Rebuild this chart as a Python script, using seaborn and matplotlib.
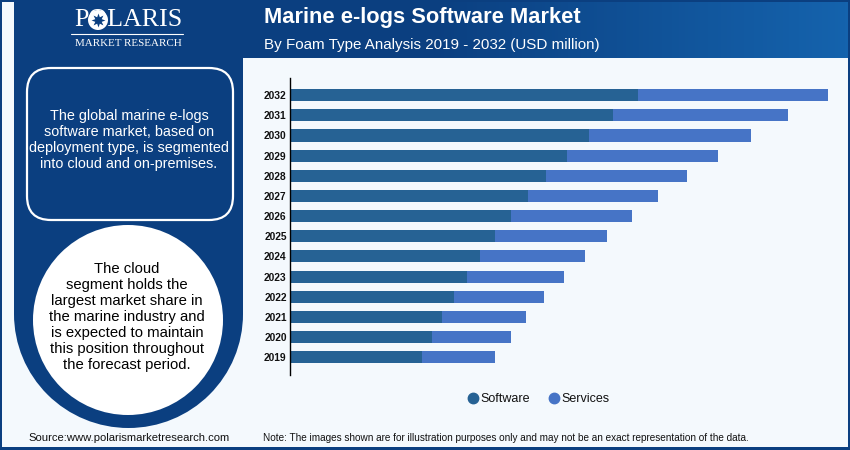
import numpy as np
import matplotlib
matplotlib.use("Agg")
import matplotlib.pyplot as plt
from matplotlib.patches import Rectangle, FancyBboxPatch, Circle, Ellipse
from matplotlib.lines import Line2D
from matplotlib.colors import LinearSegmentedColormap
import seaborn as sns

years = ["2032","2031","2030","2029","2028","2027","2026","2025","2024","2023","2022","2021","2020","2019"]
software = [348,323,299,277,256,238,221,205,190,177,164,152,142,132]
services = [190,175,162,151,141,130,121,112,105,97,90,84,79,73]

NAVY = "#0b3f80"
LIGHT = "#f4f9fd"
SOFT_C = "#266294"
SERV_C = "#4674c6"

sns.set_theme(style="white")
plt.rcParams['font.family'] = ['Liberation Sans', 'DejaVu Sans']

fig = plt.figure(figsize=(8.5, 4.5), dpi=100, facecolor=NAVY)
bg = fig.add_axes([0, 0, 1, 1], zorder=0)
bg.set_xlim(0, 850); bg.set_ylim(450, 0); bg.axis("off")

bg.add_patch(Rectangle((2, 2), 846, 445, fc=LIGHT, ec="none", zorder=1))
cmap = LinearSegmentedColormap.from_list("h", [NAVY, NAVY, "#1563ad"])
bg.imshow(np.linspace(0, 1, 256).reshape(1, -1), extent=(14, 848, 58, 2), cmap=cmap,
          aspect="auto", zorder=2)
bg.set_xlim(0, 850); bg.set_ylim(450, 0)
bg.add_patch(Rectangle((14, 2), 229, 312, fc=NAVY, ec="none", zorder=2))
bg.add_patch(Ellipse((128.5, 314), 229, 228, fc=NAVY, ec="none", zorder=2))
bg.add_patch(FancyBboxPatch((27+24, 68+24), 206-48, 152-48, boxstyle="round,pad=24,rounding_size=24",
                            fc=NAVY, ec="white", lw=1.6, zorder=3))
bg.add_patch(Circle((128, 320), 95, fc="white", ec="none", zorder=3))

# logo
bg.text(128, 20, "POLARIS", color="white", fontsize=18.7, family="Liberation Serif",
        ha="center", va="center", zorder=4)
bg.add_patch(Circle((98, 20), 10, fc="white", ec="none", zorder=5))
bg.plot([98], [20], marker=(8, 1, 0), ms=10, color=NAVY, mew=0, zorder=6)
bg.plot([71, 183], [34, 34], color="white", lw=0.8, zorder=4)
bg.text(128, 43.5, "MARKET RESEARCH", color="white", fontsize=7.9, family="Liberation Serif",
        ha="center", va="center", zorder=4)

bg.text(264, 17, "Marine e-logs Software Market", color="white", fontsize=15.75, fontweight="bold",
        ha="left", va="center", zorder=4)
bg.text(264, 45, "By Foam Type Analysis 2019 - 2032 (USD million)", color="white", fontsize=10.86,
        ha="left", va="center", zorder=4)

for y, s in zip([116, 132, 148, 164], ["The global marine e-logs", "software market, based on",
                                       "deployment type, is segmented", "into cloud and on-premises."]):
    bg.text(129, y, s, color="white", fontsize=10.4, ha="center", va="center", zorder=4)
for y, s in zip([269, 285, 301, 317, 333, 349, 365],
                ["The cloud", "segment holds the", "largest market share in", "the marine industry and",
                 "is expected to maintain", "this position throughout", "the forecast period."]):
    bg.text(127, y, s, color="black", fontsize=10.7, ha="center", va="center", zorder=4)

bg.text(28, 438, "Source:www.polarismarketresearch.com", color="#111111", fontsize=8.1,
        ha="left", va="center", zorder=4)
bg.text(263, 438, "Note: The images shown are for illustration purposes only and may not be an exact representation of the data.",
        color="#111111", fontsize=7.2, ha="left", va="center", zorder=4)

# chart: axes spans pixel x 289.5-850, y 78-375
ax = fig.add_axes([289.5/850, 1-375/450, (850-289.5)/850, (375-78)/450], zorder=1)
ax.patch.set_alpha(0)
sns.barplot(y=years, x=software, order=years, color=SOFT_C, orient="h", width=0.6,
            saturation=1, ax=ax, linewidth=0)
sns.barplot(y=years, x=services, left=software, order=years, color=SERV_C, orient="h", width=0.6,
            saturation=1, ax=ax, linewidth=0)
ax.set_xlim(0, 560.5)
ax.set_ylim(13.88, -0.85)
ax.set_xlabel(""); ax.set_ylabel("")
ax.set_xticks([])
ax.tick_params(axis="y", length=0, pad=2)
for lab in ax.get_yticklabels():
    lab.set_fontsize(7.4); lab.set_fontweight("bold"); lab.set_color("#111111")
sns.despine(ax=ax, left=False, bottom=True, top=True, right=True)
ax.spines["left"].set_color("black"); ax.spines["left"].set_linewidth(1.0)

handles = [Line2D([], [], ls="", marker="o", ms=7.5, color=SOFT_C, label="Software"),
           Line2D([], [], ls="", marker="o", ms=7.5, color=SERV_C, label="Services")]
fig.legend(handles=handles, loc="center", bbox_to_anchor=(538/850, 1-399/450), ncol=2, frameon=False,
           fontsize=9, handlelength=1, handletextpad=0.1, columnspacing=1.4, labelcolor="#111111")

fig.savefig("out.png", dpi=100, facecolor=NAVY)
